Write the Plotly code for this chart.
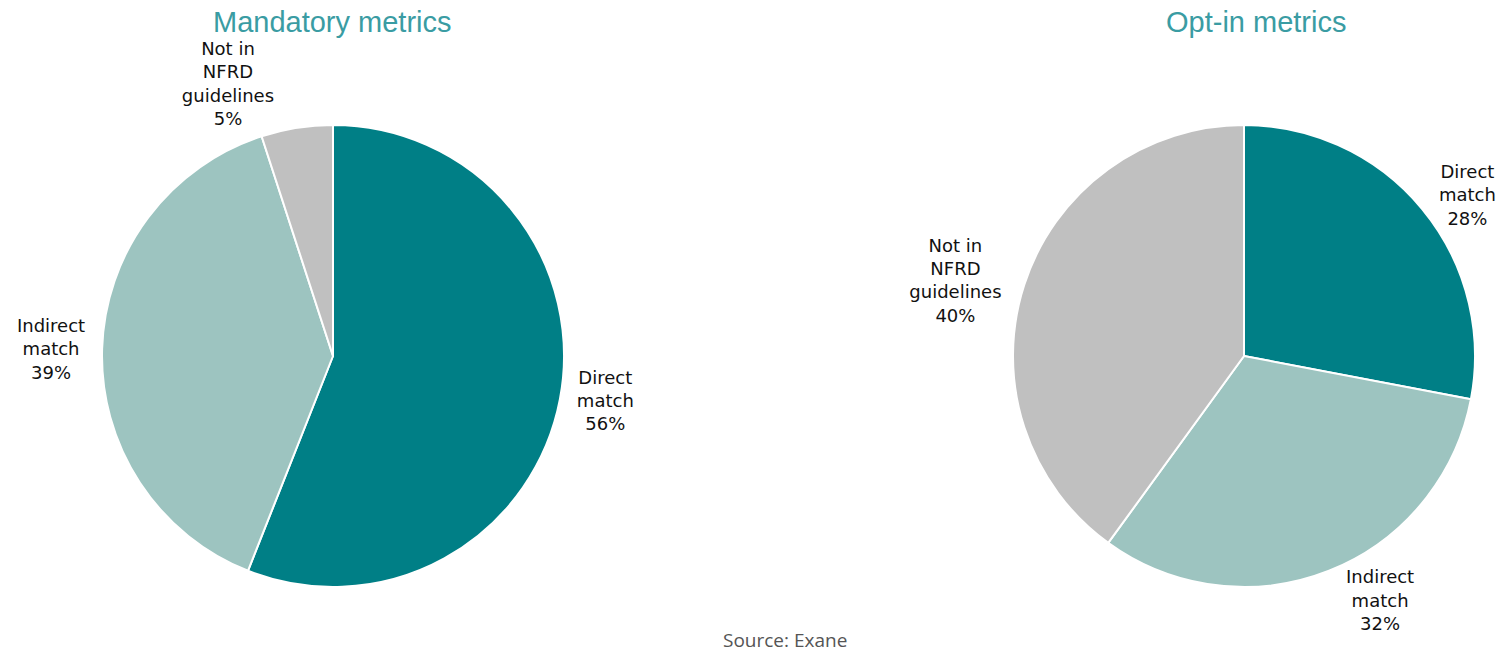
import plotly.graph_objects as go

left_labels = ["Direct<br>match", "Indirect<br>match", "Not in<br>NFRD<br>guidelines"]
left_values = [56, 39, 5]
right_labels = ["Direct<br>match", "Indirect<br>match", "Not in<br>NFRD<br>guidelines"]
right_values = [28, 32, 40]
colors = ["#007F86", "#9DC4C0", "#C0C0C0"]
titles = ["Mandatory metrics", "Opt-in metrics"]
source = "Source: Exane"

W, H = 1507, 653

def pie(labels, values, cx, cy, r):
    return go.Pie(
        labels=labels, values=values, sort=False, direction="clockwise", rotation=0,
        marker=dict(colors=colors, line=dict(color="white", width=2)),
        textinfo="label+percent", textposition="outside",
        texttemplate="%{label}<br>%{percent:.0%}",
        textfont=dict(family="DejaVu Sans", size=18, color="#111"),
        showlegend=False, hoverinfo="label+percent",
        domain=dict(x=[(cx - r) / W, (cx + r) / W], y=[1 - (cy + r) / H, 1 - (cy - r) / H]),
    )

fig = go.Figure()
fig.add_trace(pie(left_labels, left_values, 333, 356, 231))
fig.add_trace(pie(right_labels, right_values, 1244, 356, 231))

for t, x in zip(titles, [332, 1256]):
    fig.add_annotation(text=t, x=x / W, y=1 - 22 / H, xref="paper", yref="paper",
                       showarrow=False, font=dict(family="Liberation Sans", size=29, color="#3A9CA3"),
                       xanchor="center", yanchor="middle")
fig.add_annotation(text=source, x=785 / W, y=1 - 640 / H, xref="paper", yref="paper",
                   showarrow=False, font=dict(family="Open Sans", size=19, color="#555"),
                   xanchor="center", yanchor="middle")

fig.update_layout(width=W, height=H, margin=dict(l=0, r=0, t=0, b=0),
                  paper_bgcolor="white", plot_bgcolor="white")
fig.write_html("out.html")
